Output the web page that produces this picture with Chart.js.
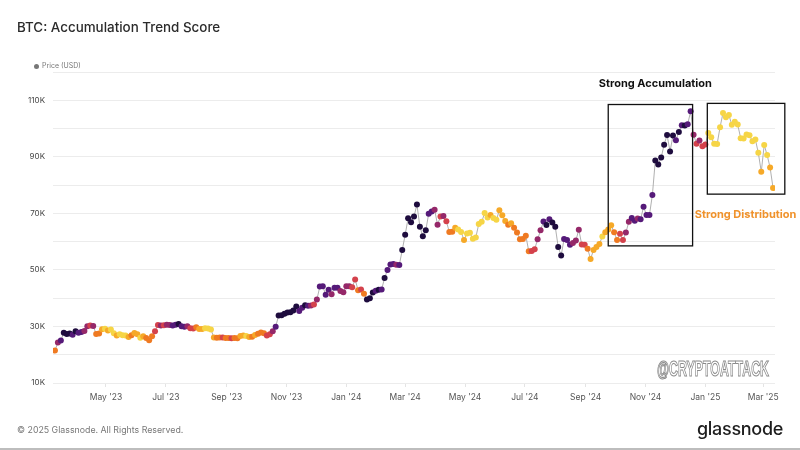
<!DOCTYPE html>
<html>
<head>
<meta charset="utf-8">
<script src="https://cdn.jsdelivr.net/npm/chart.js@4.4.1/dist/chart.umd.min.js"></script>
<style>
  html, body { margin: 0; padding: 0; background: #fff; }
  #wrap { position: relative; width: 800px; height: 450px; overflow: hidden; font-family: Inter, 'Noto Sans', sans-serif; }
  #chart { position: absolute; left: 0; top: 0; }
  .title { position: absolute; left: 17px; top: 19px; font-size: 13.4px; color: #2b2b2b; font-weight: 500; }
  .legend { position: absolute; left: 34px; top: 61px; font-size: 7px; color: #777; }
  .legend i { display: inline-block; width: 5px; height: 5px; border-radius: 50%; background: #777; margin-right: 3px; vertical-align: middle; }
  .copy { position: absolute; left: 17px; top: 424px; font-size: 8.8px; color: #777; }
  .logo { position: absolute; right: 17px; top: 418px; font-size: 18px; color: #1d1d1d; font-weight: 500; letter-spacing: -0.3px; }
  .mark { position: absolute; left: 657px; top: 356px; font: bold 22px 'Liberation Sans', sans-serif; line-height: 26px; color: #fff;
          -webkit-text-stroke: 1.1px #8a8a8a; transform-origin: 0 0; white-space: nowrap; }
  .rule { position: absolute; left: 0; right: 0; bottom: 0; height: 2px; background: #bdbdbd; }
</style>
</head>
<body>
<div id="wrap">
  <canvas id="chart" width="800" height="450"></canvas>
  <div class="title">BTC: Accumulation Trend Score</div>
  <div class="legend"><i></i>Price (USD)</div>
  <div class="mark" id="mark">@CRYPTOATTACK</div>
  <div class="copy">© 2025 Glassnode. All Rights Reserved.</div>
  <div class="logo">glassnode</div>
  <div class="rule"></div>
</div>
<script>
// price sampled every 3 days starting at seriesStart
const seriesStart = '2023-03-10';
const stepDays = 3;

const prices = [
  21500, 24300, 25000, 27800, 27300, 27500, 27100, 28300, 27800, 28000,
  28400, 30100, 30300, 30200, 27300, 27500, 29000, 29200, 28600, 28900,
  27600, 26800, 27200, 26900, 26800, 26300, 26900, 27700, 27200, 26000,
  26500, 25900, 25100, 26500, 28300, 30500, 30300, 30400, 30600, 30500,
  30300, 30600, 30900, 30100, 29900, 30100, 29400, 29300, 29700, 29100,
  29100, 29400, 29300, 28900, 26100, 26000, 26100, 26100, 25900, 25900,
  25800, 25900, 25800, 26600, 26800, 26600, 26300, 26400, 27000, 27400,
  27900, 27600, 26800, 27200, 28300, 29900, 33900, 34000, 34500, 34900,
  35000, 35600, 37100, 35500, 36600, 37500, 37300, 37400, 37800, 39500,
  44100, 44200, 41200, 43000, 41400, 43700, 43700, 42500, 42100, 44200,
  44200, 43900, 46600, 42800, 43100, 41600, 39500, 40000, 42000, 42600,
  43000, 43100, 47100, 50000, 51900, 52100, 51800, 51700, 57000, 62400,
  68300, 66900, 68900, 73100, 65300, 61900, 64000, 69900, 70700, 71300,
  66000, 68900, 69100, 67200, 63400, 63500, 64900, 64300, 63400, 60600,
  62900, 63100, 61000, 61500, 66200, 67000, 70100, 68500, 69400, 68400,
  67700, 71100, 69300, 67300, 66000, 66500, 64900, 63200, 60800, 60900,
  62100, 56600, 56700, 57300, 60800, 64000, 67100, 65900, 67900, 66800,
  65300, 58100, 55100, 60900, 60600, 58900, 59500, 60400, 64200, 59000,
  58900, 57500, 53900, 57000, 58100, 59200, 61800, 63300, 64300, 65800,
  63300, 60600, 62800, 60600, 63200, 67000, 68400, 67400, 68200, 67900,
  72300, 69400, 69400, 76500, 88700, 87300, 89800, 94300, 97700, 91900,
  97500, 95900, 98800, 101200, 101100, 101500, 106100, 97800, 94600, 95800,
  93700, 94400, 98400, 96900, 94600, 94500, 100500, 105500, 104000, 104800,
  101300, 102400, 101400, 96600, 96500, 97900, 97600, 95500, 96100, 91400,
  84700, 94200, 90600, 86200, 79000
];

// accumulation trend score bucket per point: 0 = strong distribution ... 6 = strong accumulation
const scoreLevels = [
  2, 4, 5, 6, 6, 6, 5, 6, 5, 5,
  4, 4, 3, 4, 2, 2, 1, 0, 1, 0,
  0, 1, 0, 0, 0, 1, 2, 1, 1, 0,
  1, 2, 2, 2, 3, 3, 4, 3, 4, 4,
  5, 5, 6, 5, 5, 4, 3, 3, 2, 1,
  1, 0, 0, 0, 1, 2, 2, 3, 2, 2,
  3, 2, 2, 1, 1, 0, 1, 2, 1, 2,
  2, 2, 3, 3, 4, 5, 6, 6, 6, 6,
  6, 6, 6, 5, 5, 6, 5, 4, 3, 4,
  5, 5, 5, 5, 4, 5, 5, 4, 4, 4,
  4, 3, 3, 2, 3, 2, 6, 6, 6, 5,
  6, 5, 6, 5, 5, 5, 4, 5, 6, 6,
  6, 6, 6, 6, 6, 6, 6, 5, 5, 4,
  4, 3, 4, 3, 2, 2, 1, 0, 0, 1,
  0, 0, 0, 0, 0, 0, 0, 0, 1, 0,
  0, 1, 1, 1, 2, 1, 2, 2, 2, 2,
  2, 2, 3, 3, 4, 4, 5, 6, 5, 6,
  6, 6, 6, 5, 5, 5, 4, 4, 4, 3,
  3, 2, 1, 1, 1, 1, 0, 1, 1, 1,
  2, 2, 3, 3, 4, 4, 5, 5, 4, 5,
  5, 5, 5, 5, 6, 6, 6, 6, 6, 6,
  6, 5, 6, 5, 6, 5, 5, 4, 3, 4,
  3, 3, 0, 0, 0, 0, 0, 0, 0, 0,
  0, 0, 0, 0, 0, 0, 0, 0, 0, 0,
  1, 0, 0, 1, 1
];

const monthTicks = ['2023-05-01', '2023-07-01', '2023-09-01', '2023-11-01', '2024-01-01', '2024-03-01',
                    '2024-05-01', '2024-07-01', '2024-09-01', '2024-11-01', '2025-01-01', '2025-03-01'];
const monthLabels = ["May '23", "Jul '23", "Sep '23", "Nov '23", "Jan '24", "Mar '24",
                     "May '24", "Jul '24", "Sep '24", "Nov '24", "Jan '25", "Mar '25"];

const axisStart = '2023-03-08';
const axisEnd = '2025-03-13';

// inferno-like ramp, yellow (distribution) to navy (accumulation)
const palette = ['#f6d546', '#f6a928', '#ef7a22', '#d4424c', '#952869', '#551a79', '#1e0c3e'];

const boxes = [
  { from: '2024-09-24', to: '2024-12-19', low: 58500, high: 108500 },
  { from: '2025-01-03', to: '2025-03-23', low: 76800, high: 108900 }
];
const notes = [
  { text: 'Strong Accumulation', at: '2024-11-11', price: 116000, color: '#111111' },
  { text: 'Strong Distribution', at: '2025-02-11', price: 69400, color: '#f0922b' }
];

const dayMs = 86400000;
const dayOf = s => (Date.parse(s) - Date.parse(axisStart)) / dayMs;
const firstDay = dayOf(seriesStart);

const points = prices.map((p, i) => ({ x: firstDay + i * stepDays, y: p }));
const tickDays = monthTicks.map(dayOf);

const annotate = {
  id: 'annotate',
  afterDatasetsDraw(chart) {
    const { ctx, scales: { x, y } } = chart;
    ctx.save();
    ctx.strokeStyle = '#111';
    ctx.lineWidth = 1.3;
    boxes.forEach(b => {
      const x0 = x.getPixelForValue(dayOf(b.from));
      const x1 = x.getPixelForValue(dayOf(b.to));
      const y0 = y.getPixelForValue(b.high);
      const y1 = y.getPixelForValue(b.low);
      ctx.strokeRect(x0, y0, x1 - x0, y1 - y0);
    });
    ctx.font = 'bold 11px Inter, sans-serif';
    ctx.textAlign = 'center';
    ctx.textBaseline = 'middle';
    notes.forEach(n => {
      ctx.fillStyle = n.color;
      ctx.fillText(n.text, x.getPixelForValue(dayOf(n.at)), y.getPixelForValue(n.price));
    });
    ctx.restore();
  }
};

Chart.defaults.font.family = 'Inter, sans-serif';

new Chart(document.getElementById('chart'), {
  type: 'line',
  data: {
    datasets: [{
      label: 'Price (USD)',
      data: points,
      borderColor: '#9c9c9c',
      borderWidth: 0.8,
      pointRadius: 3,
      pointBorderWidth: 0,
      pointBackgroundColor: scoreLevels.map(l => palette[l]),
      tension: 0
    }]
  },
  options: {
    responsive: false,
    animation: false,
    layout: { padding: { left: 0, right: 25, top: 72, bottom: 41 } },
    plugins: { legend: { display: false }, tooltip: { enabled: false } },
    scales: {
      x: {
        type: 'linear',
        min: 0,
        max: dayOf(axisEnd),
        afterBuildTicks: scale => { scale.ticks = tickDays.map(v => ({ value: v })); },
        afterFit: scale => { scale.height = 26; },
        grid: { drawOnChartArea: false, tickLength: 4, color: '#e4e4e4' },
        border: { display: false },
        ticks: {
          autoSkip: false,
          maxRotation: 0,
          padding: 5,
          color: '#555',
          font: { size: 8.5 },
          callback: v => monthLabels[tickDays.indexOf(v)] || ''
        }
      },
      y: {
        min: 10000,
        max: 120000,
        afterFit: scale => { scale.width = 53; },
        grid: { color: '#ececec', drawTicks: false },
        border: { display: false },
        ticks: {
          stepSize: 10000,
          padding: 8,
          color: '#444',
          font: { size: 8 },
          callback: v => (v / 10000) % 2 === 1 ? (v / 1000) + 'K' : ''
        }
      }
    }
  },
  plugins: [annotate]
});

// squeeze the watermark to its width in the reference
const mark = document.getElementById('mark');
mark.style.transform = 'scaleX(' + (112 / mark.offsetWidth) + ')';
</script>
</body>
</html>
